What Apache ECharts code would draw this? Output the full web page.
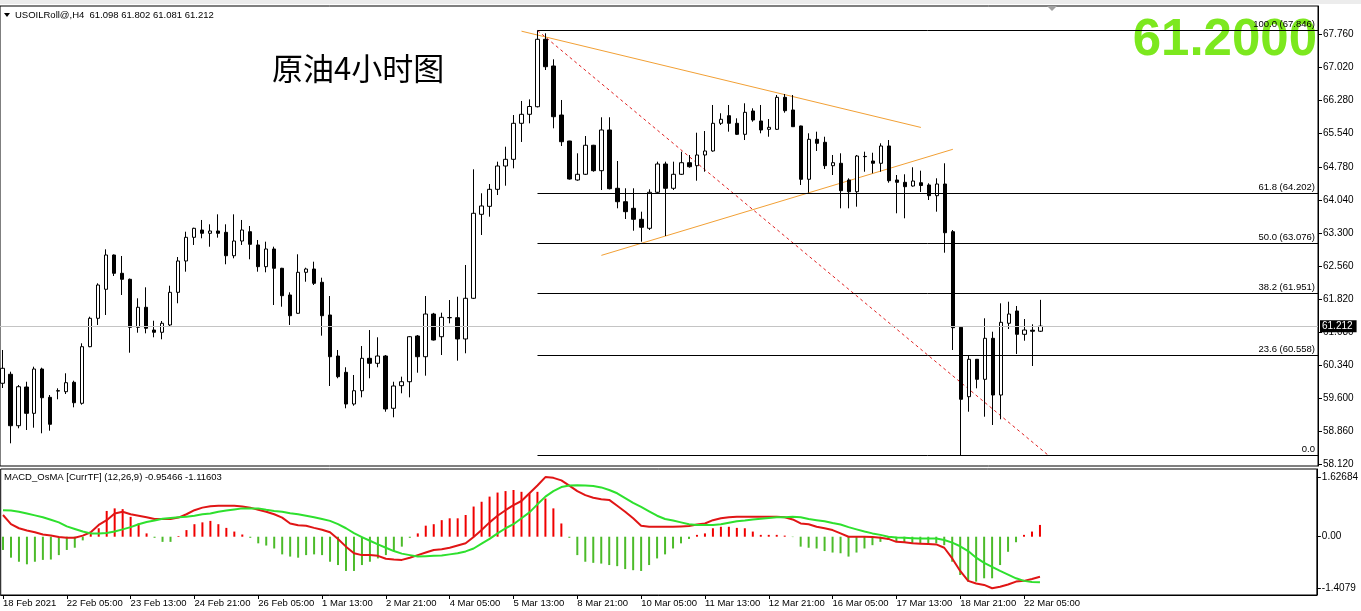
<!DOCTYPE html>
<html><head><meta charset="utf-8">
<script src="https://cdn.jsdelivr.net/npm/echarts@6/dist/echarts.min.js"></script>
<style>html,body{margin:0;padding:0;background:#fff;overflow:hidden}#c{width:1361px;height:611px}</style>
</head><body><div id="c"></div>
<script>
// ---- time axis ----
const xTickIdx = [0,8,16,24,32,40,48,56,64,72,80,88,96,104,112,120,128];
const xTickLabels = ['18 Feb 2021','22 Feb 05:00','23 Feb 13:00','24 Feb 21:00','26 Feb 05:00','1 Mar 13:00','2 Mar 21:00','4 Mar 05:00','5 Mar 13:00','8 Mar 21:00','10 Mar 05:00','11 Mar 13:00','12 Mar 21:00','16 Mar 05:00','17 Mar 13:00','18 Mar 21:00','22 Mar 05:00'];
// ---- price axis ----
const priceTicks = [67.76,67.02,66.28,65.54,64.78,64.04,63.30,62.56,61.82,61.08,60.34,59.60,58.86,58.12];
// ---- H4 candles (USOILRoll@) ----
const opens = [59.930,60.132,58.978,59.846,59.256,60.250,59.615,59.755,59.741,59.952,
59.481,60.751,61.388,62.039,62.808,62.398,62.263,61.186,61.635,61.125,
61.074,61.238,61.971,62.674,63.205,63.369,63.295,63.347,63.317,62.792,
63.122,63.331,63.033,62.546,62.943,62.510,61.911,61.500,62.420,62.494,
62.196,61.462,60.542,60.176,59.465,59.763,60.490,60.378,60.542,59.369,
59.876,59.965,60.991,60.526,61.484,60.975,61.400,61.401,60.924,61.837,
63.721,63.900,64.282,64.805,64.955,65.763,65.965,66.135,67.648,67.049,
65.949,65.366,64.491,64.619,65.270,64.700,65.613,64.305,64.004,63.856,
63.609,63.407,64.215,64.850,64.305,64.619,64.879,64.812,65.052,65.142,
65.763,65.934,65.763,65.516,66.039,65.815,65.628,65.628,66.346,66.062,
65.703,64.507,65.404,65.337,64.812,64.866,64.491,64.228,65.020,64.917,
64.866,65.254,64.491,64.439,64.356,64.430,64.379,64.139,64.401,63.331,
61.186,59.629,60.468,60.019,60.939,59.667,61.276,61.552,61.029,61.120,
61.098];
const highs = [60.677,60.190,59.891,59.965,60.302,60.280,59.667,59.817,60.154,59.988,
60.827,61.424,62.173,62.936,62.820,62.786,62.280,61.837,62.083,61.334,
61.327,62.119,62.763,63.331,63.420,63.594,63.497,63.721,63.497,63.721,
63.594,63.459,63.145,63.107,62.995,62.520,61.971,62.824,62.523,62.658,
62.299,61.888,60.677,60.289,60.116,60.766,61.125,60.962,60.564,59.965,
60.078,60.990,61.013,61.888,61.510,61.514,61.798,61.872,62.584,64.731,
64.193,64.401,64.902,65.238,65.949,66.264,66.300,67.846,67.782,67.199,
66.286,65.370,65.090,65.478,65.280,65.898,65.898,64.917,64.305,64.305,
63.780,64.282,64.902,64.902,64.902,65.126,65.052,65.552,65.590,66.174,
65.988,66.174,65.875,66.212,66.100,66.174,65.859,66.398,66.420,66.398,
65.710,65.539,65.575,65.462,65.052,65.090,64.529,65.052,65.126,65.103,
65.314,65.388,64.603,64.619,64.776,64.700,64.417,64.529,64.866,63.369,
61.190,60.564,60.470,61.388,61.087,61.724,61.760,61.664,61.372,61.253,
61.802];
const lows = [59.824,58.583,58.920,58.882,58.933,58.808,58.866,59.571,59.689,59.391,
59.450,60.740,61.238,61.462,62.337,61.911,60.616,61.065,61.051,60.962,
60.917,61.215,61.725,62.434,63.033,63.183,62.994,63.197,62.600,62.734,
63.033,62.712,62.434,62.420,61.686,61.648,61.238,61.490,62.209,62.135,
60.998,59.869,60.042,59.369,59.427,59.615,60.042,60.289,59.292,59.167,
59.705,59.615,60.167,60.100,60.890,60.564,61.276,60.437,60.603,61.820,
63.257,63.668,64.154,64.363,64.753,65.344,65.763,66.120,66.959,65.651,
65.254,64.500,64.475,64.603,64.677,64.266,64.280,63.856,63.616,63.353,
63.107,63.370,64.200,63.234,64.266,64.603,64.767,64.475,64.677,65.126,
65.725,65.575,65.500,65.388,65.799,65.539,65.462,65.613,66.001,65.680,
64.379,64.206,65.142,64.738,64.603,63.856,63.856,63.892,64.677,64.641,
64.677,64.430,63.744,63.632,64.341,64.222,64.042,63.780,62.860,60.677,
58.307,59.292,59.817,59.180,58.994,59.122,61.148,60.587,60.885,60.318,
61.081];
const closes = [60.266,58.978,59.853,59.256,60.250,59.606,59.010,59.765,59.943,59.494,
60.751,61.388,62.135,62.808,62.398,62.263,61.186,61.635,61.164,61.074,
61.276,61.971,62.674,63.205,63.407,63.295,63.347,63.295,62.792,63.122,
63.369,63.048,62.546,62.943,62.510,61.895,61.446,62.420,62.494,62.173,
61.446,60.526,60.078,59.465,59.763,60.490,60.378,60.542,59.353,59.869,
59.965,60.975,60.526,61.484,60.901,61.410,61.405,60.924,61.837,63.744,
63.908,64.282,64.805,64.955,65.763,65.965,66.140,67.648,67.033,65.911,
65.350,64.513,64.619,65.270,64.700,65.613,64.296,64.004,63.780,63.609,
63.430,64.215,64.850,64.305,64.619,64.879,64.789,65.052,65.142,65.763,
65.853,65.763,65.516,66.010,65.837,65.613,65.673,66.346,66.046,65.687,
64.507,65.404,65.314,64.812,64.879,64.251,64.228,65.029,65.015,64.866,
65.254,64.475,64.439,64.341,64.468,64.367,64.139,64.401,63.308,61.177,
59.571,60.468,60.019,60.939,59.667,61.298,61.484,61.029,61.125,61.098,
61.212];
const lastPrice = 61.212;
// ---- drawing objects ----
const fibPct = ['100.0','61.8','50.0','38.2','23.6','0.0'];
const fibPrice = [67.846,64.202,63.076,61.951,60.558,58.307];
const fibStartIdx = 67;
const fibDiagonal = [[67,67.846],[131,58.307]];
const upperTrend = [[65,67.83],[115,65.67]];
const lowerTrend = [[75,62.80],[119,65.18]];
// ---- MACD_OsMA (12,26,9) ----
const osma = [-0.36,-0.57,-0.68,-0.75,-0.68,-0.63,-0.62,-0.50,-0.36,-0.30,
-0.10,0.09,0.23,0.70,0.77,0.75,0.54,0.36,0.09,-0.03,
-0.14,-0.14,0.02,0.18,0.34,0.39,0.43,0.34,0.24,0.14,
0.06,-0.03,-0.18,-0.24,-0.32,-0.48,-0.54,-0.57,-0.50,-0.48,
-0.50,-0.68,-0.77,-0.93,-0.93,-0.77,-0.68,-0.59,-0.50,-0.39,
-0.27,-0.03,0.09,0.30,0.34,0.45,0.50,0.50,0.59,0.82,
0.95,1.09,1.20,1.24,1.27,1.22,1.18,1.22,1.04,0.77,
0.36,-0.03,-0.50,-0.68,-0.71,-0.73,-0.77,-0.80,-0.88,-0.91,
-0.93,-0.77,-0.59,-0.48,-0.32,-0.18,-0.06,0.05,0.09,0.23,
0.27,0.27,0.24,0.23,0.14,0.05,0.05,0.05,0.03,-0.01,
-0.27,-0.30,-0.32,-0.39,-0.43,-0.45,-0.54,-0.43,-0.32,-0.23,
-0.14,-0.09,-0.12,-0.15,-0.18,-0.18,-0.18,-0.18,-0.23,-0.68,
-1.04,-1.22,-1.22,-1.13,-1.13,-0.77,-0.41,-0.15,0.05,0.14,
0.32];
const macdMain = [0.59,0.34,0.23,0.17,0.12,0.06,0.03,-0.01,-0.03,-0.03,
0.03,0.12,0.32,0.45,0.63,0.68,0.61,0.57,0.53,0.48,
0.48,0.48,0.52,0.61,0.72,0.79,0.83,0.84,0.84,0.84,
0.82,0.79,0.73,0.68,0.61,0.52,0.36,0.31,0.30,0.24,
0.19,0.12,-0.06,-0.27,-0.45,-0.50,-0.50,-0.52,-0.60,-0.62,
-0.63,-0.57,-0.50,-0.43,-0.36,-0.34,-0.30,-0.24,-0.18,-0.01,
0.18,0.39,0.57,0.72,0.86,0.97,1.18,1.39,1.62,1.60,
1.53,1.39,1.24,1.13,1.06,1.02,1.00,0.84,0.68,0.50,
0.30,0.27,0.27,0.27,0.27,0.28,0.29,0.33,0.36,0.45,
0.50,0.53,0.54,0.54,0.54,0.54,0.54,0.54,0.53,0.47,
0.36,0.34,0.27,0.23,0.18,0.09,0.00,0.00,0.00,-0.01,
-0.03,-0.06,-0.14,-0.15,-0.18,-0.19,-0.20,-0.21,-0.30,-0.59,
-0.93,-1.20,-1.27,-1.31,-1.40,-1.36,-1.30,-1.22,-1.20,-1.15,
-1.09];
const macdSignal = [0.72,0.71,0.68,0.63,0.58,0.53,0.46,0.39,0.28,0.21,
0.14,0.09,0.09,0.10,0.14,0.20,0.26,0.34,0.40,0.44,
0.49,0.51,0.53,0.54,0.57,0.61,0.63,0.68,0.71,0.74,
0.77,0.77,0.77,0.73,0.70,0.68,0.64,0.61,0.57,0.53,
0.48,0.43,0.34,0.23,0.10,-0.01,-0.11,-0.21,-0.30,-0.39,
-0.46,-0.50,-0.54,-0.53,-0.52,-0.51,-0.48,-0.45,-0.40,-0.32,
-0.19,-0.06,0.09,0.23,0.34,0.50,0.66,0.88,1.09,1.24,
1.35,1.39,1.40,1.39,1.38,1.34,1.27,1.18,1.05,0.92,
0.81,0.69,0.57,0.48,0.44,0.39,0.34,0.32,0.32,0.32,
0.34,0.38,0.42,0.44,0.47,0.49,0.51,0.53,0.53,0.54,
0.53,0.48,0.45,0.42,0.37,0.33,0.26,0.20,0.14,0.09,
0.05,0.00,-0.02,-0.03,-0.04,-0.05,-0.05,-0.05,-0.09,-0.16,
-0.26,-0.39,-0.57,-0.71,-0.82,-0.93,-1.03,-1.13,-1.20,-1.23,
-1.24];
const macdTicks = [1.62684,0,-1.4079];
const macdTickLabels = ['1.62684','0.00','-1.4079'];

// ---------------- chart ----------------
const FONT = 'Liberation Sans, Arial, sans-serif';
const X_MIN = -0.2875, X_MAX = 164.7125;
const candleData = opens.map((o,i)=>[i,o,closes[i],lows[i],highs[i]]);

const fibLines = fibPrice.map((p,i)=>[
  {coord:[fibStartIdx,p], name: fibPct[i]==='0.0' ? '0.0' : fibPct[i]+' ('+p.toFixed(3)+')'},
  {coord:[X_MAX,p]}
]);

const chart = echarts.init(document.getElementById('c'), null, {renderer:'canvas'});
const option = {
  animation:false,
  backgroundColor:'#ffffff',
  textStyle:{fontFamily:FONT},
  grid:[
    {left:-2, right:43, top:6, height:460, show:true, borderColor:'#000', borderWidth:1, backgroundColor:'transparent'},
    {left:-2, right:43, top:469, height:126, show:true, borderColor:'#000', borderWidth:1, backgroundColor:'transparent'}
  ],
  xAxis:[
    {type:'value', gridIndex:0, min:X_MIN, max:X_MAX, show:false},
    {type:'value', gridIndex:1, min:X_MIN, max:X_MAX, position:'bottom',
     axisLine:{show:true, onZero:false, lineStyle:{color:'#000'}},
     axisTick:{show:true, length:4, lineStyle:{color:'#000'}, customValues:xTickIdx},
     axisLabel:{show:true, customValues:xTickIdx, margin:3, align:'left',
       fontSize:9.5, color:'#000', fontFamily:FONT,
       formatter:v=>{const j=xTickIdx.indexOf(Math.round(v)); return j>=0?xTickLabels[j]:'';}},
     splitLine:{show:false}}
  ],
  yAxis:[
    {type:'value', gridIndex:0, position:'right', min:58.074, max:68.395,
     axisLine:{show:true, onZero:false, lineStyle:{color:'#000'}},
     axisTick:{show:true, length:4, lineStyle:{color:'#000'}, customValues:priceTicks},
     axisLabel:{customValues:priceTicks, formatter:v=>v.toFixed(3), fontSize:10, margin:5, color:'#000', fontFamily:FONT},
     splitLine:{show:false}},
    {type:'value', gridIndex:0, position:'right', min:58.074, max:68.395, z:10,
     axisLine:{show:false, onZero:false}, axisTick:{show:false},
     axisLabel:{customValues:[lastPrice], formatter:v=>v.toFixed(3), fontSize:10, margin:2, color:'#fff',
       backgroundColor:'#000', padding:[1,4,1,2], fontFamily:FONT},
     splitLine:{show:false}},
    {type:'value', gridIndex:1, position:'right', min:-1.584, max:1.840,
     axisLine:{show:true, onZero:false, lineStyle:{color:'#000'}},
     axisTick:{show:true, length:4, lineStyle:{color:'#000'}, customValues:macdTicks},
     axisLabel:{customValues:macdTicks, fontSize:10, margin:5, color:'#000', fontFamily:FONT,
       formatter:v=>{let j=0,b=1e9; macdTicks.forEach((t,i)=>{if(Math.abs(t-v)<b){b=Math.abs(t-v);j=i;}}); return macdTickLabels[j];}},
     splitLine:{show:false}}
  ],
  graphic:[
    {type:'rect', shape:{x:0,y:0,width:1361,height:4}, style:{fill:'#ececec'}, z:0, silent:true},
    {type:'polygon', shape:{points:[[1047,6],[1057,6],[1052,11]]}, style:{fill:'#a0a0a0'}, z:0, silent:true},
    {type:'polygon', shape:{points:[[4,13],[10,13],[7,17]]}, style:{fill:'#000'}, silent:true},
    {type:'text', x:15, y:15, style:{text:'USOILRoll@,H4  61.098 61.802 61.081 61.212', font:'9.5px '+FONT, fill:'#000', verticalAlign:'middle'}, silent:true},
    {type:'text', x:272, y:68, style:{text:'原油4小时图', font:'31px "Noto Sans CJK SC"', fill:'#000', verticalAlign:'middle'}, silent:true},
    {type:'text', x:1317, y:41, z:0, style:{text:'61.2000', font:'bold 51px '+FONT, fill:'#7ce81e', align:'right', verticalAlign:'middle'}, silent:true},
    {type:'text', x:4, y:477, style:{text:'MACD_OsMA [CurrTF] (12,26,9) -0.95466 -1.11603', font:'9.5px '+FONT, fill:'#000', verticalAlign:'middle'}, silent:true}
  ],
  series:[
    {type:'line', name:'last', xAxisIndex:0, yAxisIndex:0, data:[], z:1, silent:true,
     markLine:{silent:true, symbol:['none','none'], animation:false,
       lineStyle:{color:'#c4c4c4', type:'solid', width:1}, label:{show:false},
       data:[{yAxis:lastPrice}]}},
    {type:'line', name:'fib', xAxisIndex:0, yAxisIndex:0, data:[], z:3, silent:true,
     markLine:{silent:true, symbol:['none','none'], animation:false,
       lineStyle:{color:'#000', type:'solid', width:1},
       label:{show:true, position:'insideEndTop', formatter:'{b}', fontSize:9.5, color:'#000', distance:[3,1], fontFamily:FONT},
       data:fibLines}},
    {type:'line', name:'diag', xAxisIndex:0, yAxisIndex:0, data:fibDiagonal, symbol:'none', z:3, silent:true,
     lineStyle:{color:'#e02020', width:1, type:[3,3]}},
    {type:'line', name:'up', xAxisIndex:0, yAxisIndex:0, data:upperTrend, symbol:'none', z:3, silent:true,
     lineStyle:{color:'#f2a035', width:1}},
    {type:'line', name:'low', xAxisIndex:0, yAxisIndex:0, data:lowerTrend, symbol:'none', z:3, silent:true,
     lineStyle:{color:'#f2a035', width:1}},
    {type:'candlestick', name:'USOIL', xAxisIndex:0, yAxisIndex:0, data:candleData, z:4,
     encode:{x:0, y:[1,2,3,4]}, barWidth:4,
     itemStyle:{color:'#fff', color0:'#000', borderColor:'#000', borderColor0:'#000', borderWidth:1}},
    {type:'bar', name:'OsMA', xAxisIndex:1, yAxisIndex:2, barWidth:2,
     data:osma.map((v,i)=>[i,v]),
     itemStyle:{color:p=>p.value[1]>=0?'#f00000':'#4cbb2a'}},
    {type:'line', name:'MACD', xAxisIndex:1, yAxisIndex:2, data:macdMain.map((v,i)=>[i,v]), symbol:'none',
     lineStyle:{color:'#e01515', width:2}},
    {type:'line', name:'Signal', xAxisIndex:1, yAxisIndex:2, data:macdSignal.map((v,i)=>[i,v]), symbol:'none',
     lineStyle:{color:'#2ee02e', width:2}}
  ]
};
chart.setOption(option);
</script>
</body></html>
